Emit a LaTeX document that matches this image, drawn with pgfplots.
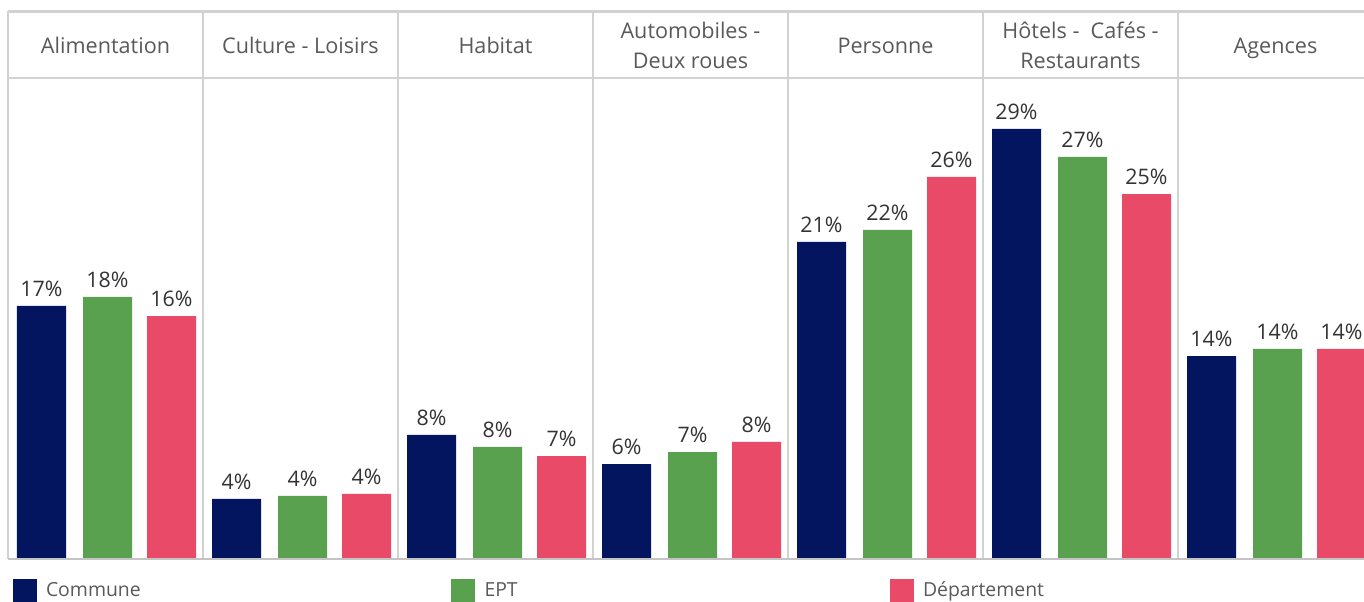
\documentclass[border=0pt]{standalone}
\usepackage{pgfplots}
\pgfplotsset{compat=1.18}
\usepackage{fontspec}
\setmainfont{Open Sans}
\definecolor{commune}{HTML}{03155F}
\definecolor{ept}{HTML}{59A14F}
\definecolor{dept}{HTML}{E84A67}
\definecolor{sepgray}{HTML}{D2D2D2}
\definecolor{basegray}{HTML}{C4C4C4}
\definecolor{headgray}{HTML}{595959}
\definecolor{labelgray}{HTML}{333333}
\begin{document}
\begin{tikzpicture}
\useasboundingbox (0,0) rectangle (682pt,300.5pt);
\begin{axis}[
  at={(4pt,21.25pt)}, anchor=south west,
  width=678pt, height=240.25pt, scale only axis,
  xmin=0, xmax=6.9538, ymin=0, ymax=32.44,
  clip=false,
  axis line style={draw=none},
  ytick=\empty,
  xtick={0.5,1.5,2.5,3.5,4.5,5.5,6.5},
  xticklabels={Alimentation, Culture - Loisirs, Habitat, {Automobiles -\\Deux roues}, Personne, {Hôtels -~~Cafés -\\Restaurants}, Agences},
  xticklabel pos=upper,
  major tick length=0pt,
  xtick style={draw=none},
  xticklabel style={anchor=center, yshift=16.25pt, text depth=0pt, font=\fontsize{10.8}{15}\selectfont, text=headgray, align=center},
  ybar, bar width=0.2513, bar shift=0pt,
  nodes near coords, point meta=explicit symbolic,
  every node near coord/.append style={font=\fontsize{10.7}{12}\selectfont, text=labelgray, inner ysep=4.5pt},
  legend columns=3,
  legend style={at={(axis description cs:0,0)}, anchor=north west, xshift=2.25pt, yshift=-10.25pt,
    draw=none, fill=none, inner sep=0pt, outer sep=0pt, row sep=0pt, column sep=0pt,
    font=\fontsize{9.7}{11}\selectfont, text=headgray, cells={anchor=west},
    nodes={inner sep=0pt, text width=202.5pt, align=left},
    /tikz/every odd column/.append style={column sep=4.75pt}},
]
\addplot[fill=commune, draw=none, legend image code/.code={\fill[commune] (0pt,-6pt) rectangle (12pt,6pt);}] coordinates {
  (0.1718,17.05) [17\%] (1.1718,4.02) [4\%] (2.1718,8.34) [8\%] (3.1718,6.38) [6\%]
  (4.1718,21.37) [21\%] (5.1718,29.0) [29\%] (6.1718,13.67) [14\%]};
\addlegendentry{Commune}
\addplot[fill=ept, draw=none, legend image code/.code={\fill[ept] (0pt,-6pt) rectangle (12pt,6pt);}] coordinates {
  (0.5103,17.66) [18\%] (1.5103,4.22) [4\%] (2.5103,7.53) [8\%] (3.5103,7.19) [7\%]
  (4.5103,22.18) [22\%] (5.5103,27.11) [27\%] (6.5103,14.15) [14\%]};
\addlegendentry{EPT}
\addplot[fill=dept, draw=none, legend image code/.code={\fill[dept] (0pt,-6pt) rectangle (12pt,6pt);}] coordinates {
  (0.8385,16.37) [16\%] (1.8385,4.36) [4\%] (2.8385,6.92) [7\%] (3.8385,7.87) [8\%]
  (4.8385,25.76) [26\%] (5.8385,24.6) [25\%] (6.8385,14.15) [14\%]};
\addlegendentry{Département}
\pgfplotsinvokeforeach{1,2,3,4,5,6}{\draw[sepgray, line width=1pt] (axis cs:#1,0) -- (axis cs:#1,36.96);}
\draw[sepgray, line width=1pt] (axis cs:0,0) -- (axis cs:0,36.96);
\draw[sepgray, line width=1.5pt] (axis cs:0,36.96) -- (axis cs:6.9538,36.96);
\draw[sepgray, line width=1pt] (axis cs:0,32.44) -- (axis cs:6.9538,32.44);
\draw[basegray, line width=1pt] (axis cs:0,0) -- (axis cs:6.9538,0);
\end{axis}
\end{tikzpicture}
\end{document}
